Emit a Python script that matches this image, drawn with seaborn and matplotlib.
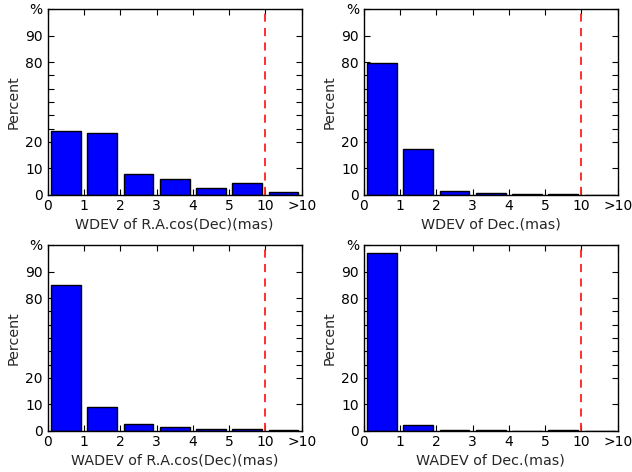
import numpy as np
import pandas as pd
import seaborn as sns
import matplotlib
matplotlib.use("Agg")
import matplotlib.pyplot as plt

# bins: 0-1, 1-2, 2-3, 3-4, 4-5, 5-10, >10 (mas)
bin_pos = [0.5, 1.5, 2.5, 3.5, 4.5, 5.5, 6.5]
xtick_labels = ["0", "1", "2", "3", "4", "5", "10", ">10"]

wdev_ra = [28.0, 27.0, 7.8, 6.1, 2.8, 4.5, 1.0]
wdev_dec = [79.5, 17.4, 1.5, 0.6, 0.25, 0.35, 0.1]
wadev_ra = [85.1, 9.0, 2.5, 1.4, 0.9, 0.75, 0.25]
wadev_dec = [97.0, 2.1, 0.5, 0.25, 0.1, 0.2, 0.1]

xlabels = ["WDEV of R.A.cos(Dec)(mas)", "WDEV of Dec.(mas)",
           "WADEV of R.A.cos(Dec)(mas)", "WADEV of Dec.(mas)"]

ytick_vals = [0, 10, 20, 30, 40, 50, 60, 70, 80, 90, 100]
ytick_labels = ["0", "10", "20", "", "", "", "", "", "80", "90", "%"]


# y axis: linear up to 20, 20-80 squeezed by half, linear again above 80
def fwd(v):
    v = np.asarray(v, dtype=float)
    return np.where(v <= 20, v, np.where(v <= 80, 20 + (v - 20) / 2, v - 30))


def inv(u):
    u = np.asarray(u, dtype=float)
    return np.where(u <= 20, u, np.where(u <= 50, 20 + (u - 20) * 2, u + 30))


sns.set_style("ticks")
plt.rcParams["font.family"] = ["DejaVu Sans"]
plt.rcParams["xtick.direction"] = "in"
plt.rcParams["ytick.direction"] = "in"
plt.rcParams["xtick.top"] = True
plt.rcParams["ytick.right"] = True
plt.rcParams["xtick.color"] = "black"
plt.rcParams["ytick.color"] = "black"
plt.rcParams["axes.edgecolor"] = "black"
plt.rcParams["xtick.major.size"] = 4
plt.rcParams["ytick.major.size"] = 4

fig, axes = plt.subplots(2, 2, figsize=(6.32, 4.72), dpi=100)
fig.subplots_adjust(left=0.0755, right=0.9775, bottom=0.087, top=0.981,
                    wspace=0.244, hspace=0.269)

for ax, vals, xl in zip(axes.flat, [wdev_ra, wdev_dec, wadev_ra, wadev_dec], xlabels):
    df = pd.DataFrame({"pos": bin_pos, "pct": vals})
    sns.barplot(data=df, x="pos", y="pct", native_scale=True, width=0.82,
                color="#0000ff", saturation=1, edgecolor="black", linewidth=1, ax=ax)
    ax.set_yscale("function", functions=(fwd, inv))
    ax.set_ylim(0, 100)
    ax.set_yticks(ytick_vals)
    ax.set_yticklabels(ytick_labels)
    ax.set_xlim(0, 7)
    ax.set_xticks(range(8))
    ax.set_xticklabels(xtick_labels)
    ax.axvline(6, color="#ff2020", linestyle="--", linewidth=1.3, dashes=(4.5, 3.5))
    ax.set_xlabel(xl, fontsize=10.3, labelpad=3)
    ax.set_ylabel("Percent", fontsize=10.3, labelpad=3)
    ax.minorticks_off()
    for s in ax.spines.values():
        s.set_visible(True)
        s.set_linewidth(1)
    ax.tick_params(axis="x", labelsize=10, pad=3)
    ax.tick_params(axis="y", labelsize=10, pad=3.5)

fig.savefig("out.png", dpi=100)
